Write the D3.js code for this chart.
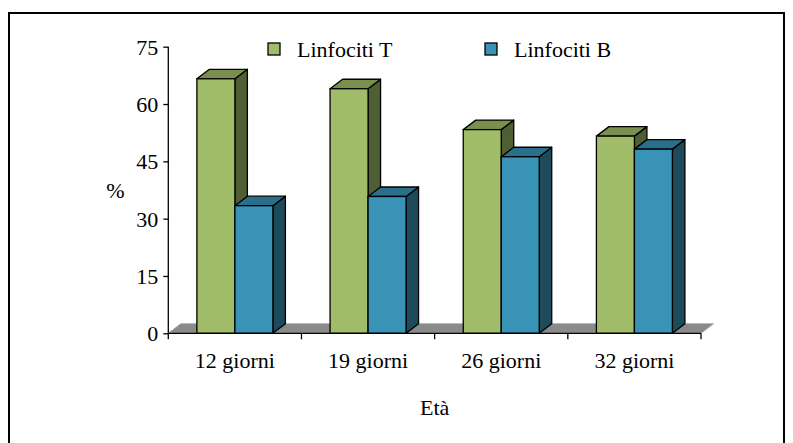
<!DOCTYPE html>
<html>
<head>
<meta charset="utf-8">
<script src="https://cdn.jsdelivr.net/npm/d3@7"></script>
<style>
  html, body { margin: 0; padding: 0; background: #fff; }
  svg { display: block; }
</style>
</head>
<body>
<script>
// Chart data
const categories = ["12 giorni", "19 giorni", "26 giorni", "32 giorni"];
const seriesNames = ["Linfociti T", "Linfociti B"];
const linfocitiT = [66.6, 64.0, 53.3, 51.6];
const linfocitiB = [33.4, 35.8, 46.2, 48.2];
const yTicks = [0, 15, 30, 45, 60, 75];
const yLabel = "%";
const xLabel = "Età";

const W = 793, H = 443;
const plotLeft = 168.3, plotRight = 701, plotTop = 46.7, plotBottom = 333.3;
const depthX = 12.5, depthY = -9.5;
const barW = 38;
const FONT = "Liberation Serif";
const FS = "22px";

const palette = [
  { front: "#a2bd69", top: "#7a8f4d", side: "#4f5f33" },
  { front: "#3893b6", top: "#2a6f8b", side: "#1d4b5c" }
];
const values = [linfocitiT, linfocitiB];

const svg = d3.select("body").append("svg").attr("width", W).attr("height", H);

// Outer frame
svg.append("rect")
  .attr("x", 9).attr("y", 13)
  .attr("width", 775).attr("height", H)
  .attr("fill", "none").attr("stroke", "#000").attr("stroke-width", 2);

const x = d3.scaleBand().domain(categories).range([plotLeft, plotRight]).paddingInner(0).paddingOuter(0);
const y = d3.scaleLinear().domain([0, 75]).range([plotBottom, plotTop]);

const pts = a => a.map(p => p.join(",")).join(" ");

// Floor
const y0 = y(0);
svg.append("polygon")
  .attr("points", pts([[plotLeft, y0], [plotLeft + depthX, y0 + depthY], [plotRight + depthX, y0 + depthY], [plotRight, y0]]))
  .attr("fill", "#8a8a8a").attr("stroke", "#9a9a9a").attr("stroke-width", 0.8);

// Bars: side face, top face, then front face
const g = svg.append("g");
categories.forEach((cat, i) => {
  const bx = x(cat) + (x.bandwidth() - barW * values.length) / 2;
  values.forEach((series, s) => {
    const v = series[i];
    const x0 = bx + s * barW, x1 = x0 + barW;
    const yt = y(v);
    const col = palette[s];
    g.append("polygon")
      .attr("points", pts([[x1, yt], [x1 + depthX, yt + depthY], [x1 + depthX, y0 + depthY], [x1, y0]]))
      .attr("fill", col.side).attr("stroke", "#000").attr("stroke-width", 1.3).attr("stroke-linejoin", "round");
    g.append("polygon")
      .attr("points", pts([[x0, yt], [x0 + depthX, yt + depthY], [x1 + depthX, yt + depthY], [x1, yt]]))
      .attr("fill", col.top).attr("stroke", "#000").attr("stroke-width", 1.3).attr("stroke-linejoin", "round");
    g.append("rect")
      .attr("x", x0).attr("y", yt).attr("width", barW).attr("height", y0 - yt)
      .attr("fill", col.front).attr("stroke", "#000").attr("stroke-width", 1.3);
  });
});

// Y axis
const yAxis = d3.axisLeft(y).tickValues(yTicks).tickSize(5).tickPadding(5);
const ya = svg.append("g").attr("transform", `translate(${plotLeft},0)`).call(yAxis);
ya.attr("font-family", null).attr("font-size", null);
ya.select(".domain").attr("stroke", "#000").attr("stroke-width", 1.3).attr("d", `M0,${plotTop}V${plotBottom}`);
ya.selectAll(".tick line").attr("stroke", "#000").attr("stroke-width", 1.3);
ya.selectAll(".tick text").attr("fill", "#000").attr("dy", "0.34em")
  .style("font-family", FONT).style("font-size", FS);

// X axis
const xa = svg.append("g").attr("transform", `translate(0,${y0})`);
xa.append("line").attr("x1", plotLeft).attr("x2", plotRight).attr("stroke", "#000").attr("stroke-width", 1.3);
const bounds = categories.map(c => x(c)).concat([plotRight]);
xa.selectAll("line.tk").data(bounds).enter().append("line").attr("class", "tk")
  .attr("x1", d => d).attr("x2", d => d).attr("y1", 0).attr("y2", 6)
  .attr("stroke", "#000").attr("stroke-width", 1.3);
xa.selectAll("text").data(categories).enter().append("text")
  .attr("x", d => x(d) + x.bandwidth() / 2).attr("y", 34.5)
  .attr("text-anchor", "middle").style("font-family", FONT).style("font-size", FS).text(d => d);

// Axis titles
svg.append("text").attr("x", (plotLeft + plotRight) / 2).attr("y", 415)
  .attr("text-anchor", "middle").style("font-family", FONT).style("font-size", FS).text(xLabel);
svg.append("text").attr("x", 115.5).attr("y", 198)
  .attr("text-anchor", "middle").style("font-family", FONT).style("font-size", FS).text(yLabel);

// Legend
const legendX = [268, 485];
seriesNames.forEach((name, s) => {
  const lg = svg.append("g").attr("transform", `translate(${legendX[s]},43)`);
  lg.append("rect").attr("width", 12).attr("height", 12)
    .attr("fill", palette[s].front).attr("stroke", "#000").attr("stroke-width", 1.3);
  lg.append("text").attr("x", 29).attr("y", 13.5)
    .style("font-family", FONT).style("font-size", FS).text(name);
});
</script>
</body>
</html>
